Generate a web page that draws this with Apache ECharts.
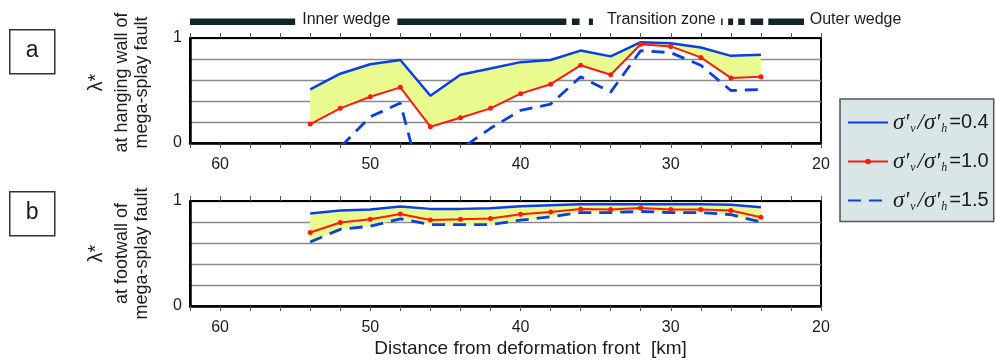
<!DOCTYPE html>
<html><head><meta charset="utf-8">
<script src="https://cdn.jsdelivr.net/npm/echarts@6/dist/echarts.min.js"></script>
<style>html,body{margin:0;padding:0;background:#fff}#c{width:995px;height:361px}</style>
</head><body><div id="c"></div>
<script>
// ---------------- data ----------------
const distanceKm = [54, 52, 50, 48, 46, 44, 42, 40, 38, 36, 34, 32, 30, 28, 26, 24];
const ratioLabels = ['0.4', '1.0', '1.5'];
// panel a: hanging wall of mega-splay fault
const hangingR04 = [0.51, 0.66, 0.75, 0.79, 0.45, 0.65, 0.71, 0.77, 0.79, 0.88, 0.825, 0.96, 0.95, 0.91, 0.83, 0.84];
const hangingR10 = [0.18, 0.33, 0.44, 0.53, 0.155, 0.24, 0.33, 0.47, 0.56, 0.74, 0.65, 0.94, 0.92, 0.815, 0.62, 0.63];
const hangingR15 = [-0.3, -0.04, 0.25, 0.38, -0.7, -0.06, 0.14, 0.31, 0.37, 0.63, 0.485, 0.88, 0.86, 0.74, 0.50, 0.51];
// panel b: footwall of mega-splay fault
const footwallR04 = [0.88, 0.91, 0.92, 0.947, 0.925, 0.925, 0.93, 0.95, 0.96, 0.97, 0.97, 0.97, 0.97, 0.97, 0.965, 0.94];
const footwallR10 = [0.70, 0.795, 0.826, 0.877, 0.82, 0.826, 0.833, 0.874, 0.896, 0.924, 0.92, 0.934, 0.92, 0.92, 0.91, 0.845];
const footwallR15 = [0.61, 0.73, 0.76, 0.83, 0.775, 0.775, 0.775, 0.817, 0.85, 0.89, 0.89, 0.90, 0.89, 0.89, 0.87, 0.80];
// axis tick labels
const xTickLabels = [60, 50, 40, 30, 20];
const yTickLabels = [0, 1];
// zone bar above panel a (km)
const zoneSegmentStart = [62.0, 48.2, 36.58, 35.45, 26.65, 26.18, 25.51, 24.69, 23.51];
const zoneSegmentEnd   = [55.0, 36.95, 36.07, 35.18, 26.55, 25.85, 25.07, 23.85, 21.13];
const zoneNames = ['Inner wedge', 'Transition zone', 'Outer wedge'];
const zoneNameKm = [51.6, 30.63, 17.7];
const panelNames = ['a', 'b'];
const yAxisTitles = [['λ*', 'at hanging wall of', 'mega-splay fault'], ['λ*', 'at footwall of', 'mega-splay fault']];
const xAxisTitle = 'Distance from deformation front  [km]';

// ---------------- chart ----------------
const BLUE = '#0a3fe6', RED = '#ff1a0d', FILL = '#e9fa8f', TXT = '#1c1c1c';
const FONT = 'Liberation Sans';
const pairs = arr => distanceKm.map((d, i) => [d, arr[i]]);
const seriesNames = ratioLabels.map(r => "σ'ν/σ'h=" + r);

function xAxisFor(gridIndex, position, showLabels) {
  return {
    type: 'value', gridIndex, position, min: 20, max: 62, interval: 2, inverse: true,
    axisLine: { show: true, onZero: false, lineStyle: { color: '#000', width: position === 'bottom' ? 2.5 : 2 } },
    axisTick: { show: true, inside: false, length: 5, lineStyle: { color: '#555', width: 1 } },
    splitLine: { show: false },
    axisLabel: {
      show: showLabels, margin: 14, fontSize: 16, color: TXT, fontFamily: FONT,
      formatter: v => xTickLabels.includes(v) ? String(v) : ''
    }
  };
}
function yAxisFor(gridIndex, titleLines, pad) {
  return {
    type: 'value', gridIndex, min: 0, max: 1, interval: 0.2,
    axisLine: { show: true, lineStyle: { color: '#000', width: 2.5 } },
    axisTick: { show: false },
    splitLine: { show: true, lineStyle: { color: '#8a8a8a', width: 1.3 } },
    axisLabel: { margin: 8, fontSize: 16, color: TXT, fontFamily: FONT,
      formatter: v => yTickLabels.includes(v) ? String(v) : '' },
    name: '{l|' + titleLines[0] + '}\n{t|' + titleLines[1] + '}\n{t|' + titleLines[2] + '}',
    nameLocation: 'middle', nameRotate: 90, nameGap: 38,
    nameTextStyle: {
      color: TXT, fontFamily: FONT, padding: pad,
      rich: { l: { fontSize: 20, lineHeight: 32, fontFamily: FONT, color: TXT },
              t: { fontSize: 18, lineHeight: 20, fontFamily: FONT, color: TXT } }
    }
  };
}
function bandSeries(xi, yi, upper, lower) {
  return {
    type: 'custom', xAxisIndex: xi, yAxisIndex: yi, silent: true, z: 1,
    data: [[distanceKm[0], upper[0]]],
    renderItem(params, api) {
      const top = distanceKm.map((d, i) => api.coord([d, upper[i]]));
      const bot = distanceKm.map((d, i) => api.coord([d, lower[i]])).reverse();
      return { type: 'polygon', shape: { points: top.concat(bot) }, style: { fill: FILL } };
    }
  };
}
function lineSeries(xi, yi, k, arr) {
  const s = { type: 'line', name: seriesNames[k], xAxisIndex: xi, yAxisIndex: yi, data: pairs(arr),
    silent: true, animation: false, clip: true, z: 3 };
  if (k === 0) Object.assign(s, { color: BLUE, symbol: 'none', lineStyle: { color: BLUE, width: 2.5 } });
  if (k === 1) Object.assign(s, { color: RED, symbol: 'circle', symbolSize: 5, showSymbol: true,
    itemStyle: { color: RED }, lineStyle: { color: RED, width: 2 }, z: 4 });
  if (k === 2) Object.assign(s, { color: BLUE, symbol: 'none', lineStyle: { color: BLUE, width: 2.8, type: [13, 8] } });
  return s;
}

const zoneBarSeries = {
  type: 'custom', xAxisIndex: 0, yAxisIndex: 0, silent: true, clip: false, z: 5,
  data: zoneSegmentStart.map((s, i) => [s, zoneSegmentEnd[i]]),
  encode: { x: [0, 1] },
  renderItem(params, api) {
    const p1 = api.coord([api.value(0), 1]);
    const p2 = api.coord([api.value(1), 1]);
    return { type: 'rect', shape: { x: Math.min(p1[0], p2[0]), y: p1[1] - 19.5, width: Math.abs(p2[0] - p1[0]), height: 6.5 },
      style: { fill: '#12242a' } };
  }
};
const zoneLabelSeries = {
  type: 'custom', xAxisIndex: 0, yAxisIndex: 0, silent: true, clip: false, z: 5,
  data: zoneNameKm.map(k => [k]),
  encode: { x: 0 },
  renderItem(params, api) {
    const p = api.coord([api.value(0), 1]);
    return { type: 'text', x: p[0], y: p[1] - 18,
      style: { text: zoneNames[params.dataIndex], fontSize: 16, fontFamily: FONT, fill: TXT, align: 'center', verticalAlign: 'middle' } };
  }
};

const panelBoxTops = [29, 191];
const graphics = panelNames.map((n, i) => ({
  type: 'group', left: 9, top: panelBoxTops[i],
  children: [
    { type: 'rect', shape: { x: 0, y: 0, width: 45, height: 44 }, style: { fill: '#fff', stroke: '#333', lineWidth: 1.5 } },
    { type: 'text', x: 22.5, y: 21, style: { text: n, fontSize: 23, fontFamily: FONT, fill: TXT, align: 'center', verticalAlign: 'middle' } }
  ]
}));

const xAxes = [xAxisFor(0, 'bottom', true), xAxisFor(0, 'top', false), xAxisFor(1, 'bottom', true), xAxisFor(1, 'top', false)];
Object.assign(xAxes[2], { name: xAxisTitle, nameLocation: 'middle', nameGap: 33,
  nameTextStyle: { fontSize: 19, color: TXT, fontFamily: FONT, padding: [0, 0, 0, 50] } });

const option = {
  animation: false,
  textStyle: { fontFamily: FONT },
  grid: [
    { left: 190, width: 631, top: 38, height: 105, show: true, borderColor: '#000', borderWidth: 2, backgroundColor: 'transparent' },
    { left: 190, width: 631, top: 201, height: 105, show: true, borderColor: '#000', borderWidth: 2, backgroundColor: 'transparent' }
  ],
  xAxis: xAxes,
  yAxis: [yAxisFor(0, yAxisTitles[0], [0, 0, 0, 16]), yAxisFor(1, yAxisTitles[1], [0, 0, 0, 0])],
  legend: {
    show: true, orient: 'vertical', left: 840, top: 99, selectedMode: false,
    backgroundColor: '#d9e6e7', borderColor: '#555', borderWidth: 1.5, borderRadius: 0,
    padding: [12, 5, 9, 7], itemWidth: 40, itemHeight: 7, itemGap: 15.5,
    data: [
      { name: seriesNames[0], itemStyle: { opacity: 0 } },
      { name: seriesNames[1] },
      { name: seriesNames[2], itemStyle: { opacity: 0 } }
    ],
    formatter: name => "{s|σ'}{sub|ν}{s|/σ'}{sub|h}{n|=" + name.split('=')[1] + '}',
    textStyle: {
      color: TXT,
      rich: {
        s: { fontFamily: 'Liberation Serif', fontStyle: 'italic', fontSize: 23, lineHeight: 24, color: TXT },
        sub: { fontFamily: 'Liberation Serif', fontStyle: 'italic', fontSize: 12, lineHeight: 12, verticalAlign: 'bottom', color: TXT, padding: [0, 2, 0, 1] },
        n: { fontFamily: FONT, fontSize: 20, lineHeight: 24, color: TXT }
      }
    }
  },
  graphic: graphics,
  series: [
    bandSeries(0, 0, hangingR04, hangingR10),
    lineSeries(0, 0, 0, hangingR04),
    lineSeries(0, 0, 1, hangingR10),
    lineSeries(0, 0, 2, hangingR15),
    bandSeries(2, 1, footwallR04, footwallR15),
    lineSeries(2, 1, 0, footwallR04),
    lineSeries(2, 1, 1, footwallR10),
    lineSeries(2, 1, 2, footwallR15),
    zoneBarSeries,
    zoneLabelSeries
  ]
};
const chart = echarts.init(document.getElementById('c'));
chart.setOption(option);
</script>
</body></html>
